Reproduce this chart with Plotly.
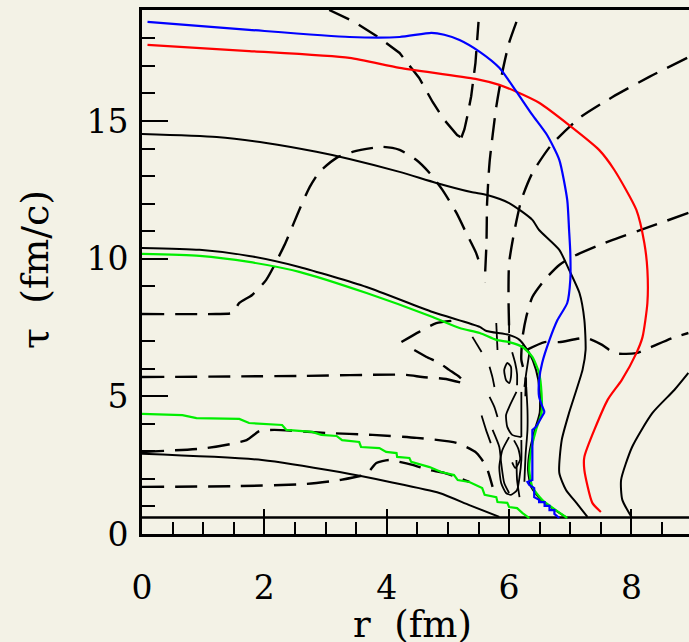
import plotly.graph_objects as go

BG = "#f3f2e6"
FONT = "DejaVu Serif"

# ---------------- axis ----------------
R_MAX = 8.94
TAU_MAX = 19.03
TAU0 = 0.6
X_TICKS = [0, 2, 4, 6, 8]
Y_TICKS = [0, 5, 10, 15]

# ---------------- coloured curves ----------------
blue_r = [0.09, 1.75, 3.39, 4.21, 4.73, 4.94, 5.19, 5.52, 5.84, 6.10, 6.38, 6.62, 6.82, 6.95, 6.98,
          7.00, 7.00, 6.95, 6.79, 6.66, 6.54, 6.49, 6.49, 6.58, 6.44, 6.38, 6.38, 6.30, 6.33, 6.41,
          6.41, 6.49, 6.49, 6.58, 6.58, 6.66, 6.66, 6.74, 6.74, 6.82]
blue_tau = [18.60, 18.31, 18.05, 18.05, 18.20, 18.13, 17.94, 17.51, 16.93, 16.13, 15.22, 14.49, 13.59, 12.13, 11.04,
            10.21, 9.23, 8.39, 7.77, 7.05, 6.21, 5.59, 4.98, 4.43, 3.89, 3.78, 1.96, 1.89, 1.78, 1.67,
            1.34, 1.24, 1.16, 1.16, 1.02, 1.02, 0.87, 0.87, 0.73, 0.58]
BLUE_SMOOTH_END = 23  # index where the smooth part ends and the jagged part starts

red_r = [0.09, 1.75, 3.39, 4.21, 5.45, 5.84, 6.12, 6.49, 6.98, 7.47, 7.72, 8.08, 8.21, 8.26, 8.26,
         8.18, 8.08, 7.84, 7.61, 7.23, 7.23, 7.36, 7.50]
red_tau = [17.76, 17.54, 17.29, 16.93, 16.53, 16.31, 16.06, 15.66, 14.85, 13.95, 13.22, 11.77, 10.57, 9.59, 8.39,
           7.15, 6.57, 5.59, 4.87, 2.80, 2.32, 1.13, 0.80]

green_hi_r = [0.0, 0.94, 1.75, 2.57, 3.67, 4.75, 5.19, 5.52, 5.79, 6.00, 6.22, 6.38, 6.49, 6.53, 6.53,
              6.44, 6.36, 6.33, 6.38, 6.54, 6.95]
green_hi_tau = [10.17, 10.10, 9.88, 9.52, 8.75, 7.88, 7.48, 7.30, 7.05, 6.97, 6.79, 6.43, 5.85, 5.12, 4.40,
                3.78, 3.05, 2.32, 1.71, 1.24, 0.58]

green_lo_r = [0.0, 0.66, 0.89, 1.59, 1.75, 2.29, 2.36, 2.78, 2.93, 3.18, 3.27, 3.55, 3.58, 3.88, 3.99,
              4.16, 4.17, 4.37, 4.40, 4.70, 4.89, 5.10, 5.16, 5.35, 5.56, 5.60, 5.79, 5.81, 5.97, 6.00,
              6.13, 6.22, 6.33]
green_lo_tau = [4.36, 4.32, 4.21, 4.18, 4.03, 3.96, 3.78, 3.71, 3.60, 3.56, 3.41, 3.34, 3.16, 3.12, 2.98,
                2.94, 2.80, 2.76, 2.62, 2.43, 2.25, 2.14, 1.96, 1.89, 1.67, 1.42, 1.34, 1.16, 1.13, 0.98,
                0.94, 0.76, 0.58]

# ---------------- black solid contours ----------------
solid_a_r = [0.0, 1.22, 2.03, 2.85, 3.39, 4.21, 4.81, 5.38, 5.64, 6.00, 6.38, 6.49, 6.82, 6.98, 7.15,
             7.23, 7.25, 7.20, 6.98, 6.86, 6.82, 6.93, 7.10, 7.28]
solid_a_tau = [14.53, 14.42, 14.20, 13.88, 13.62, 13.15, 12.75, 12.42, 12.31, 12.02, 11.41, 11.04, 10.32, 9.59, 8.75,
               7.77, 6.68, 5.96, 4.40, 3.41, 2.22, 1.60, 1.13, 0.62]

solid_b_r = [0.0, 0.94, 1.75, 2.57, 3.67, 4.75, 5.52, 5.63, 6.00, 6.17, 6.33, 6.44, 6.50, 6.50, 6.42,
             6.34, 6.31, 6.36, 6.52, 6.95]
solid_b_tau = [10.39, 10.32, 10.10, 9.70, 8.97, 8.06, 7.52, 7.37, 7.23, 7.05, 6.57, 5.96, 5.20, 4.40, 3.78,
               3.05, 2.32, 1.71, 1.24, 0.58]

solid_c_r = [0.0, 1.96, 3.23, 4.05, 4.86, 5.35, 5.84]
solid_c_tau = [2.91, 2.69, 2.25, 1.89, 1.49, 1.05, 0.62]

solid_d_r = [8.93, 8.70, 8.34, 8.01, 7.83, 7.85, 8.00]
solid_d_tau = [5.85, 5.23, 4.39, 3.16, 1.96, 1.24, 0.62]

# tangled contours near the surface (r ~ 5.5-6.4 fm)
knot_r = [
    [6.12, 6.00, 5.95, 5.97, 6.05, 6.20],
    [6.20, 6.20],
    [6.00, 5.89, 5.84, 5.87, 5.95, 6.03, 6.13, 6.17, 6.20, 6.20],
    [5.68, 5.76, 5.81],
    [5.68, 5.73, 5.76],
    [5.40, 5.55],
    [6.28, 6.30, 6.30, 6.27, 6.25],
    [5.79, 5.81],
    [6.00, 6.00],
    [6.12, 6.13, 6.17],
    [6.33, 6.28, 6.25],
    [5.92, 5.97, 6.03, 6.03, 6.00, 5.95, 5.92],
    [5.73, 5.84, 5.87, 5.92, 6.00],
    [5.55, 5.62, 5.70],
    [6.05, 6.10, 6.13, 6.13],
    [6.08, 6.15, 6.18, 6.10, 6.05],
]
knot_tau = [
    [5.16, 4.61, 4.32, 3.89, 3.60, 3.52],
    [5.16, 3.52],
    [3.52, 3.05, 2.43, 1.85, 1.49, 1.42, 1.60, 2.07, 2.69, 3.41],
    [4.98, 4.61, 4.25],
    [6.07, 5.67, 5.34],
    [7.16, 6.61],
    [5.34, 4.50, 3.78, 2.90, 1.90],
    [7.66, 6.68],
    [7.77, 7.30],
    [2.69, 1.96, 1.34],
    [6.57, 5.85, 5.34],
    [5.96, 6.21, 6.07, 5.70, 5.48, 5.59, 5.96],
    [3.78, 3.16, 2.58, 1.85, 1.49],
    [4.30, 3.80, 3.30],
    [6.60, 6.20, 5.80, 5.40],
    [3.40, 3.10, 2.70, 2.40, 2.60],
]

# ---------------- black dashed contours ----------------
dashed_r = [
    [3.06, 3.47, 3.88, 4.21, 4.53, 4.75, 4.94, 5.15, 5.22],
    [5.22, 5.27, 5.32, 5.38, 5.45, 5.50],
    [6.12, 6.00, 5.89, 5.79, 5.68, 5.64, 5.63, 5.60],
    [8.91, 8.29, 7.69, 7.15, 6.69, 6.38, 6.20, 6.09, 6.00, 5.99, 6.00, 6.00],
    [8.93, 8.29, 7.64, 7.03, 6.82, 6.58, 6.38, 6.28, 6.22, 6.20, 6.27, 6.27],
    [6.28, 6.58, 6.82, 7.26, 7.52, 7.72, 8.08, 8.32, 8.67, 8.93],
    [0.0, 1.21, 1.48, 1.59, 1.80, 2.03, 2.33, 2.57, 2.74, 2.90, 3.18, 3.44, 3.93, 4.21, 4.48,
     4.70, 4.91, 5.14, 5.30, 5.46, 5.55],
    [4.24, 4.53, 4.81, 5.19],
    [4.45, 4.65, 4.86, 5.02, 5.19, 5.28],
    [0.0, 2.57, 4.32, 4.58, 4.97, 5.24],
    [0.0, 1.05, 1.71, 1.92, 2.16, 3.01, 3.77, 4.49, 5.14, 5.47, 5.63, 5.73],
    [0.0, 1.59, 2.69, 3.23, 3.67, 3.83, 4.04, 4.21, 4.42, 4.70, 4.94, 5.35],
]
dashed_tau = [
    [19.03, 18.60, 18.02, 17.47, 16.56, 15.69, 15.04, 14.49, 14.40],
    [14.40, 14.70, 15.20, 15.90, 17.11, 18.60],
    [18.60, 17.84, 16.78, 15.51, 13.48, 12.02, 10.57, 9.12],
    [17.29, 16.60, 15.87, 15.11, 14.13, 13.11, 12.13, 11.04, 9.84, 8.61, 7.41, 6.87],
    [11.66, 11.15, 10.64, 10.06, 9.77, 9.23, 8.61, 7.88, 7.16, 6.32, 5.70, 5.00],
    [6.68, 6.97, 6.97, 7.12, 6.87, 6.57, 6.57, 6.79, 7.12, 7.30],
    [7.99, 7.99, 8.03, 8.39, 8.68, 9.23, 10.50, 11.77, 12.60, 13.15, 13.66, 13.88, 14.06, 13.95, 13.59,
     13.11, 12.50, 11.66, 10.93, 10.21, 9.59],
    [6.97, 7.34, 7.66, 7.77],
    [6.68, 6.43, 6.21, 5.96, 5.70, 5.48],
    [5.70, 5.74, 5.78, 5.70, 5.63, 5.48],
    [2.98, 3.12, 3.41, 3.74, 3.78, 3.67, 3.60, 3.49, 3.31, 2.94, 2.43, 1.71],
    [1.71, 1.74, 1.82, 1.96, 2.18, 2.58, 2.69, 2.62, 2.51, 2.32, 2.22, 1.89],
]

fig = go.Figure()

def add(x, y, color, width, dash="solid", shape="linear"):
    fig.add_trace(go.Scatter(x=x, y=y, mode="lines", hoverinfo="skip",
                             line=dict(color=color, width=width, dash=dash, shape=shape,
                                       smoothing=0.6 if shape == "spline" else None)))

# tau0 line
add([0, R_MAX], [TAU0, TAU0], "black", 2.5)

for i, (xs, ys) in enumerate(zip(dashed_r, dashed_tau)):
    add(xs, ys, "black", 2.4, dash="22px,11px", shape="linear" if i < 2 else "spline")
for xs, ys in zip(knot_r, knot_tau):
    add(xs, ys, "black", 1.8, shape="spline")

add(solid_a_r, solid_a_tau, "black", 2, shape="spline")
add(solid_b_r, solid_b_tau, "black", 2, shape="spline")
add(solid_c_r, solid_c_tau, "black", 2, shape="spline")
add(solid_d_r, solid_d_tau, "black", 2, shape="spline")

add(green_hi_r, green_hi_tau, "#00ee00", 2.2, shape="spline")
add(green_lo_r, green_lo_tau, "#00ee00", 2.2)
add(red_r, red_tau, "#ff0000", 2.2, shape="spline")
add(blue_r[:BLUE_SMOOTH_END + 1], blue_tau[:BLUE_SMOOTH_END + 1], "#0000ff", 2.2, shape="spline")
add(blue_r[BLUE_SMOOTH_END:], blue_tau[BLUE_SMOOTH_END:], "#0000ff", 2.2)

tickfont = dict(family=FONT, size=33, color="black")
fig.update_layout(
    width=689, height=642,
    margin=dict(l=142, r=0, t=10, b=108),
    paper_bgcolor=BG, plot_bgcolor=BG,
    showlegend=False,
    xaxis=dict(range=[0, R_MAX], showline=True, linewidth=3, linecolor="black", mirror=True,
               ticks="inside", ticklen=25, tickwidth=2, tickcolor="black",
               tickvals=X_TICKS, ticktext=[str(v) for v in X_TICKS],
               tickfont=tickfont, ticklabelstandoff=22,
               minor=dict(ticks="inside", ticklen=12, tickwidth=2, tickcolor="black", dtick=0.5, tick0=0,
                          showgrid=False),
               showgrid=False, zeroline=False),
    xaxis2=dict(range=[0, R_MAX], overlaying="x", side="top", anchor="y",
                ticks="inside", ticklen=3, tickwidth=1.5, tickcolor="black", dtick=0.5, tick0=0,
                showticklabels=False, showline=False, showgrid=False, zeroline=False),
    yaxis=dict(range=[0, TAU_MAX], showline=True, linewidth=3, linecolor="black", mirror=False,
               ticks="inside", ticklen=26, tickwidth=2, tickcolor="black",
               tickvals=Y_TICKS, ticktext=[str(v) for v in Y_TICKS],
               tickfont=tickfont, ticklabelstandoff=4,
               minor=dict(ticks="inside", ticklen=13, tickwidth=2, tickcolor="black", dtick=1, tick0=0,
                          showgrid=False),
               showgrid=False, zeroline=False),
    annotations=[
        dict(text="r  (fm)", xref="paper", yref="paper", x=0.4954, y=-0.172,
             xanchor="center", yanchor="middle", showarrow=False,
             font=dict(family=FONT, size=37, color="black")),
        dict(text="τ  (fm/c)", xref="paper", yref="paper", x=-0.1956, y=0.504,
             xanchor="center", yanchor="middle", textangle=-90, showarrow=False,
             font=dict(family=FONT, size=38, color="black")),
    ],
)

fig.write_html("out.html")
